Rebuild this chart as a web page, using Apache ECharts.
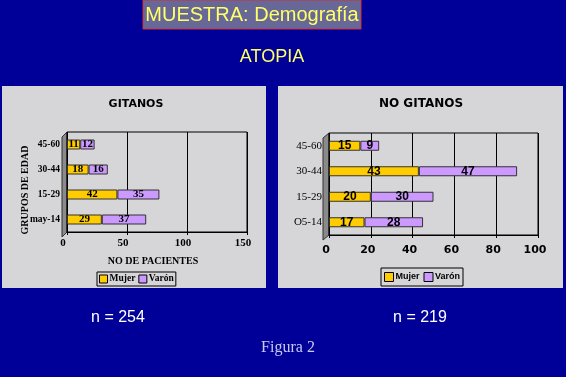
<!DOCTYPE html>
<html>
<head>
<meta charset="utf-8">
<script src="https://cdn.jsdelivr.net/npm/echarts@6/dist/echarts.min.js"></script>
<style>
  html, body { margin: 0; padding: 0; background: #000099; }
  #chart { width: 566px; height: 377px; }
</style>
</head>
<body>
<div id="chart"></div>
<script>
// datos
const gruposGitanos = ['may-14', '15-29', '30-44', '45-60']
const mujerGitanos = [29, 42, 18, 11]
const varonGitanos = [37, 35, 16, 12]

const gruposNoGitanos = ['O5-14', '15-29', '30-44', '45-60']
const mujerNoGitanos = [17, 20, 43, 15]
const varonNoGitanos = [28, 30, 47, 9]

const ticksGitanos = { min: 0, max: 150, interval: 50 }
const ticksNoGitanos = { min: 0, max: 100, interval: 20 }

const AMARILLO = '#ffcc00'
const LILA = '#cc99ff'
const SERIF = '"Liberation Serif", "DejaVu Serif", serif'
const SANS = '"Liberation Sans", Arial, sans-serif'
const COMIC = '"DejaVu Sans", sans-serif'

const myChart = echarts.init(document.getElementById('chart'))

function barSerie(name, data, color, xi, font, size) {
  return {
    name: name,
    type: 'bar',
    stack: 'tot' + xi,
    xAxisIndex: xi,
    yAxisIndex: xi,
    data: data,
    barWidth: 10,
    itemStyle: { color: color, borderColor: '#333', borderWidth: 1 },
    label: {
      show: true,
      position: 'inside',
      color: '#000',
      fontFamily: font,
      fontWeight: 'bold',
      fontSize: size
    }
  }
}

const option = {
  backgroundColor: '#000099',
  animation: false,
  graphic: [
    // paneles
    { type: 'rect', shape: { x: 2, y: 86, width: 264, height: 202 }, style: { fill: '#d6d6d8' }, z: -10 },
    { type: 'rect', shape: { x: 278, y: 86, width: 285, height: 202 }, style: { fill: '#d6d6d8' }, z: -10 },
    // paredes laterales 3D
    { type: 'polygon', shape: { points: [[62, 137], [67, 132], [67, 232], [62, 237]] }, style: { fill: '#8a8a8a', stroke: '#333', lineWidth: 1 }, z: -5 },
    { type: 'polygon', shape: { points: [[323, 138], [329, 133], [329, 235], [323, 240]] }, style: { fill: '#8a8a8a', stroke: '#333', lineWidth: 1 }, z: -5 },
    // cabecera
    { type: 'rect', shape: { x: 143, y: 0, width: 218, height: 29 }, style: { fill: '#686898', stroke: '#cc3333', lineWidth: 1 } },
    { type: 'text', x: 252, y: 15, style: { text: 'MUESTRA: Demografía', fill: '#ffff66', font: '20px ' + SANS, textAlign: 'center', textVerticalAlign: 'middle' } },
    { type: 'text', x: 272, y: 57, style: { text: 'ATOPIA', fill: '#ffff66', font: '18px ' + SANS, textAlign: 'center', textVerticalAlign: 'middle' } },
    // titulos de graficos
    { type: 'text', x: 136, y: 104, style: { text: 'GITANOS', fill: '#000', font: 'bold 11px ' + COMIC, textAlign: 'center', textVerticalAlign: 'middle' } },
    { type: 'text', x: 421, y: 104, style: { text: 'NO GITANOS', fill: '#000', font: 'bold 12px ' + COMIC, textAlign: 'center', textVerticalAlign: 'middle' } },
    // eje y izquierdo
    { type: 'text', x: 25, y: 190, rotation: Math.PI / 2, style: { text: 'GRUPOS DE EDAD', fill: '#000', font: 'bold 10px ' + SERIF, textAlign: 'center', textVerticalAlign: 'middle' } },
    // pie
    { type: 'text', x: 118, y: 318, style: { text: 'n = 254', fill: '#ffffff', font: '16px ' + SANS, textAlign: 'center', textVerticalAlign: 'middle' } },
    { type: 'text', x: 420, y: 318, style: { text: 'n = 219', fill: '#ffffff', font: '16px ' + SANS, textAlign: 'center', textVerticalAlign: 'middle' } },
    { type: 'text', x: 288, y: 348, style: { text: 'Figura 2', fill: '#c8c8f0', font: '16px ' + SERIF, textAlign: 'center', textVerticalAlign: 'middle' } }
  ],
  legend: [
    {
      left: 97, top: 272,
      data: ['Mujer', 'Varón'],
      itemWidth: 8, itemHeight: 8, itemGap: 3,
      icon: 'rect',
      padding: [2, 2],
      borderColor: '#000', borderWidth: 1,
      itemStyle: { borderColor: '#000', borderWidth: 1 },
      textStyle: { fontFamily: SERIF, fontWeight: 'bold', fontSize: 9.5, color: '#000', padding: [0, 0, 0, -3] }
    },
    {
      left: 381, top: 268,
      data: ['Mujer', 'Varón'],
      itemWidth: 9, itemHeight: 9, itemGap: 4,
      icon: 'rect',
      padding: [4, 3],
      borderColor: '#000', borderWidth: 1,
      itemStyle: { borderColor: '#000', borderWidth: 1 },
      textStyle: { fontFamily: SANS, fontWeight: 'bold', fontSize: 9, color: '#000', padding: [0, 0, 0, -3] }
    }
  ],
  grid: [
    { left: 67, top: 132, width: 180, height: 100, show: true, borderColor: '#000', borderWidth: 1 },
    { left: 329, top: 133, width: 209, height: 102, show: true, borderColor: '#000', borderWidth: 1 }
  ],
  xAxis: [
    {
      gridIndex: 0, type: 'value',
      min: ticksGitanos.min, max: ticksGitanos.max, interval: ticksGitanos.interval,
      name: 'NO DE PACIENTES', nameLocation: 'middle', nameGap: 24,
      nameTextStyle: { fontFamily: SERIF, fontWeight: 'bold', fontSize: 10, color: '#000', padding: [0, 8, 0, 0] },
      axisLine: { show: true, lineStyle: { color: '#000' } },
      axisTick: { show: true, length: 3, lineStyle: { color: '#000' } },
      axisLabel: { color: '#000', fontFamily: SERIF, fontWeight: 'bold', fontSize: 11, margin: 6, padding: [0, 8, 0, 0] },
      splitLine: { show: true, lineStyle: { color: '#000', width: 1 } }
    },
    {
      gridIndex: 1, type: 'value',
      min: ticksNoGitanos.min, max: ticksNoGitanos.max, interval: ticksNoGitanos.interval,
      axisLine: { show: true, lineStyle: { color: '#000' } },
      axisTick: { show: true, length: 3, lineStyle: { color: '#000' } },
      axisLabel: { color: '#000', fontFamily: COMIC, fontWeight: 'bold', fontSize: 11, margin: 10, padding: [0, 6, 0, 0] },
      splitLine: { show: true, lineStyle: { color: '#000', width: 1 } }
    }
  ],
  yAxis: [
    {
      gridIndex: 0, type: 'category', data: gruposGitanos,
      axisLine: { show: false }, axisTick: { show: false },
      axisLabel: { color: '#000', fontFamily: SERIF, fontWeight: 'bold', fontSize: 9.5, margin: 7 }
    },
    {
      gridIndex: 1, type: 'category', data: gruposNoGitanos,
      axisLine: { show: false }, axisTick: { show: false },
      axisLabel: { color: '#000', fontFamily: SERIF, fontSize: 11, margin: 7 }
    }
  ],
  series: [
    barSerie('Mujer', mujerGitanos, AMARILLO, 0, SERIF, 11),
    barSerie('Varón', varonGitanos, LILA, 0, SERIF, 11),
    barSerie('Mujer', mujerNoGitanos, AMARILLO, 1, SANS, 12),
    barSerie('Varón', varonNoGitanos, LILA, 1, SANS, 12)
  ]
}

myChart.setOption(option)
</script>
</body>
</html>
